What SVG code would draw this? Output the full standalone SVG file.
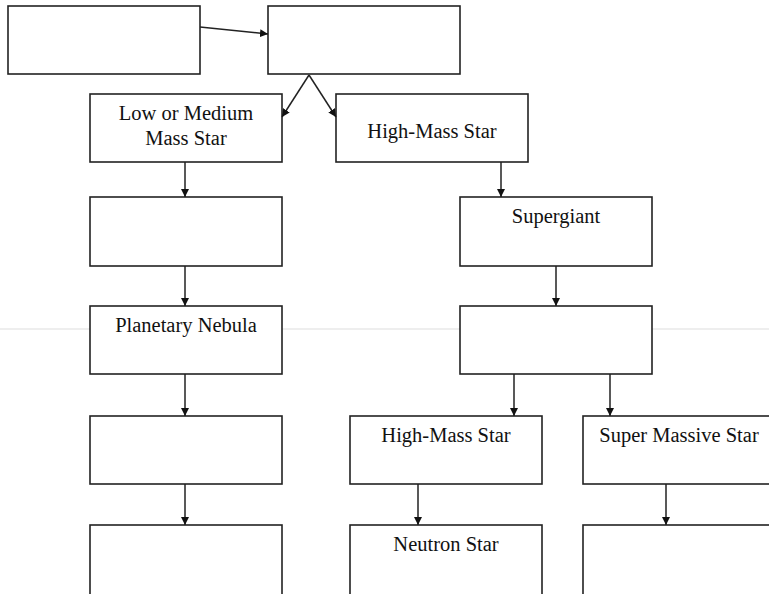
<svg xmlns="http://www.w3.org/2000/svg" width="769" height="594" viewBox="0 0 769 594">
<style>
.b{fill:#fff;stroke:#222;stroke-width:1.6}
.t{font-family:"Liberation Serif","Times New Roman",serif;font-size:20.5px;fill:#111;text-anchor:middle}
.c{stroke:#222;stroke-width:1.5;fill:none;marker-end:url(#ah)}
</style>
<defs>
<marker id="ah" viewBox="0 0 10 10" refX="10" refY="5" markerWidth="8" markerHeight="8" markerUnits="userSpaceOnUse" orient="auto">
<path d="M0,0 L10,5 L0,10 z" fill="#111"/>
</marker>
</defs>
<rect width="769" height="594" fill="#fff"/>
<line x1="0" y1="329" x2="769" y2="329" stroke="#ddd" stroke-width="1"/>
<g id="n1"><rect class="b" x="8" y="6" width="192" height="68"/></g>
<g id="n2"><rect class="b" x="268" y="6" width="192" height="68"/></g>
<g id="n3"><rect class="b" x="90" y="94" width="192" height="68"/><text class="t" x="186" y="120">Low or Medium</text><text class="t" x="186" y="145">Mass Star</text></g>
<g id="n4"><rect class="b" x="336" y="94" width="192" height="68"/><text class="t" x="432" y="138">High-Mass Star</text></g>
<g id="n5"><rect class="b" x="90" y="197" width="192" height="69"/></g>
<g id="n6"><rect class="b" x="460" y="197" width="192" height="69"/><text class="t" x="556" y="223">Supergiant</text></g>
<g id="n7"><rect class="b" x="90" y="306" width="192" height="68"/><text class="t" x="186" y="332">Planetary Nebula</text></g>
<g id="n8"><rect class="b" x="460" y="306" width="192" height="68"/></g>
<g id="n9"><rect class="b" x="90" y="416" width="192" height="68"/></g>
<g id="n10"><rect class="b" x="350" y="416" width="192" height="68"/><text class="t" x="446" y="442">High-Mass Star</text></g>
<g id="n11"><rect class="b" x="583" y="416" width="194" height="68"/><text class="t" x="679" y="442">Super Massive Star</text></g>
<g id="n12"><rect class="b" x="90" y="525" width="192" height="70"/></g>
<g id="n13"><rect class="b" x="350" y="525" width="192" height="70"/><text class="t" x="446" y="551">Neutron Star</text></g>
<g id="n14"><rect class="b" x="583" y="525" width="194" height="70"/></g>
<g id="connectors">
<line class="c" x1="200" y1="27" x2="268" y2="34"/>
<line class="c" x1="309" y1="75" x2="282" y2="117"/>
<line class="c" x1="309" y1="75" x2="336" y2="117"/>
<line class="c" x1="185" y1="162" x2="185" y2="197"/>
<line class="c" x1="185" y1="266" x2="185" y2="306"/>
<line class="c" x1="185" y1="374" x2="185" y2="416"/>
<line class="c" x1="185" y1="484" x2="185" y2="525"/>
<line class="c" x1="501" y1="162" x2="501" y2="197"/>
<line class="c" x1="556" y1="266" x2="556" y2="306"/>
<line class="c" x1="514" y1="374" x2="514" y2="416"/>
<line class="c" x1="610" y1="374" x2="610" y2="416"/>
<line class="c" x1="418" y1="484" x2="418" y2="525"/>
<line class="c" x1="666" y1="484" x2="666" y2="525"/>
</g>
</svg>
